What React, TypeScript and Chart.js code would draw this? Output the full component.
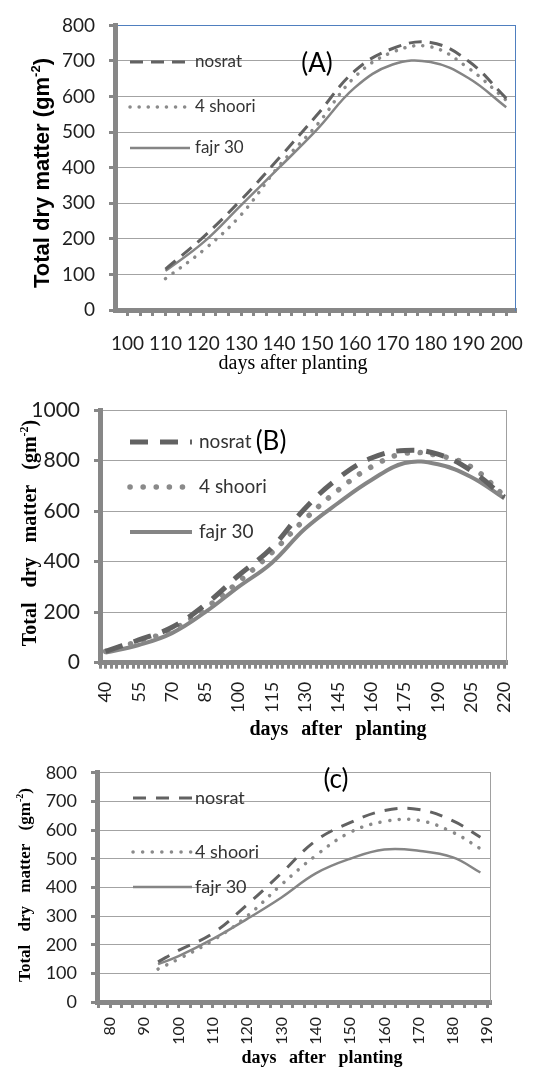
import React, { useEffect, useRef } from 'react';
import { Chart, registerables } from 'chart.js';

Chart.register(...registerables);

// ---------------- data ----------------
const seriesNames = ['nosrat', '4 shoori', 'fajr 30'];

// Panel (A)
const daysA = [110, 120, 130, 140, 150, 160, 170, 180, 190, 200];
const nosratA = [115, 205, 310, 427, 548, 672, 735, 752, 700, 595];
const shooriA = [88, 168, 268, 405, 520, 655, 725, 740, 680, 590];
const fajrA = [110, 190, 295, 400, 507, 625, 690, 697, 652, 570];
const xLabelsA = [100, 110, 120, 130, 140, 150, 160, 170, 180, 190, 200];
const yTicksA = [0, 100, 200, 300, 400, 500, 600, 700, 800];

// Panel (B)
const daysB = [40, 55, 70, 85, 100, 115, 130, 145, 160, 175, 190, 205, 220];
const nosratB = [45, 90, 140, 230, 345, 455, 610, 730, 810, 840, 825, 760, 655];
const shooriB = [45, 85, 130, 215, 320, 435, 568, 683, 775, 828, 820, 775, 660];
const fajrB = [40, 70, 117, 200, 300, 395, 530, 632, 723, 790, 785, 735, 650];
const xLabelsB = [40, 55, 70, 85, 100, 115, 130, 145, 160, 175, 190, 205, 220];
const yTicksB = [0, 200, 400, 600, 800, 1000];

// Panel (c)
const daysC = [94, 100, 110, 120, 130, 140, 150, 160, 170, 180, 188];
const nosratC = [140, 180, 240, 340, 450, 563, 626, 668, 672, 632, 575];
const shooriC = [115, 150, 215, 300, 410, 511, 592, 630, 634, 592, 535];
const fajrC = [132, 160, 220, 290, 365, 449, 500, 532, 528, 505, 452];
const xLabelsC = [80, 90, 100, 110, 120, 130, 140, 150, 160, 170, 180, 190];
const yTicksC = [0, 100, 200, 300, 400, 500, 600, 700, 800];

// ---------------- styles ----------------
const AXIS_GRAY = '#878787';
const GRID_GRAY = '#a3a3a3';
const TEXT = '#1e1e1e';
const DASH_COLOR = '#626262';
const DOT_COLOR = '#8a8a8a';
const SOLID_COLOR = '#858585';

function tickList(labels: number[], sub: number, lo: number, hi: number) {
  const step = (labels[1] - labels[0]) / sub;
  const out: number[] = [];
  const start = labels[0] - Math.floor((labels[0] - lo) / step) * step;
  for (let v = start; v <= hi + 1e-9; v += step) out.push(Math.round(v * 1000) / 1000);
  return out;
}

const decorPlugin = {
  id: 'decor',
  afterDraw(chart: any, _args: any, o: any) {
    const ctx: CanvasRenderingContext2D = chart.ctx;
    ctx.save();
    // legend
    const lg = o.legend;
    chart.data.datasets.forEach((ds: any, i: number) => {
      const y = lg.ys[i];
      ctx.save();
      ctx.strokeStyle = ds.borderColor;
      ctx.lineWidth = ds.borderWidth;
      ctx.setLineDash(ds.borderDash || []);
      ctx.lineCap = ds.borderCapStyle || 'butt';
      ctx.beginPath();
      ctx.moveTo(lg.x1, y);
      ctx.lineTo(lg.x2, y);
      ctx.stroke();
      ctx.restore();
      ctx.fillStyle = lg.color;
      ctx.font = lg.font;
      ctx.textAlign = 'left';
      ctx.textBaseline = 'middle';
      ctx.fillText(ds.label, lg.tx, y);
    });
    // panel label
    const pl = o.panel;
    ctx.fillStyle = '#000';
    ctx.font = pl.font;
    ctx.textAlign = 'center';
    ctx.textBaseline = 'middle';
    ctx.fillText(pl.text, pl.x, pl.y);
    // x title
    const xt = o.xTitle;
    ctx.font = xt.font;
    (ctx as any).wordSpacing = xt.wordSpacing || '0px';
    ctx.fillStyle = '#000';
    ctx.textAlign = 'center';
    ctx.textBaseline = 'middle';
    ctx.fillText(xt.text, xt.x, xt.y);
    (ctx as any).wordSpacing = '0px';
    // y title (rotated, with superscript)
    const yt = o.yTitle;
    ctx.save();
    ctx.translate(yt.x, yt.y);
    ctx.rotate(-Math.PI / 2);
    (ctx as any).wordSpacing = yt.wordSpacing || '0px';
    ctx.font = yt.font;
    const w1 = ctx.measureText(yt.pre).width;
    const w3 = ctx.measureText(yt.post).width;
    ctx.font = yt.supFont;
    const w2 = ctx.measureText(yt.sup).width;
    const total = w1 + w2 + w3;
    let cx = -total / 2;
    ctx.textAlign = 'left';
    ctx.textBaseline = 'alphabetic';
    ctx.fillStyle = '#000';
    ctx.font = yt.font;
    ctx.fillText(yt.pre, cx, yt.base);
    cx += w1;
    ctx.font = yt.supFont;
    ctx.fillText(yt.sup, cx, yt.base - yt.supRise);
    cx += w2;
    ctx.font = yt.font;
    ctx.fillText(yt.post, cx, yt.base);
    (ctx as any).wordSpacing = '0px';
    ctx.restore();
    ctx.restore();
  },
};

function series(days: number[], values: number[]) {
  return days.map((d, i) => ({ x: d, y: values[i] }));
}

function makeConfig(p: any): any {
  const isLabel = (v: number) =>
    Math.abs(v - Math.round(v)) < 1e-6 && p.xLabels.includes(Math.round(v));
  const xTicks = tickList(p.xLabels, p.sub, p.xMin, p.xMax);
  const common = { pointRadius: 0, pointHoverRadius: 0, fill: false, tension: 0.4 };
  return {
    type: 'line',
    data: {
      datasets: [
        {
          label: seriesNames[0],
          data: series(p.days, p.nosrat),
          borderColor: DASH_COLOR,
          borderWidth: p.dashW,
          borderDash: p.dash,
          ...common,
        },
        {
          label: seriesNames[1],
          data: series(p.days, p.shoori),
          borderColor: DOT_COLOR,
          borderWidth: p.dotW,
          borderDash: p.dot,
          borderCapStyle: 'round',
          ...common,
        },
        {
          label: seriesNames[2],
          data: series(p.days, p.fajr),
          borderColor: SOLID_COLOR,
          borderWidth: p.solidW,
          ...common,
        },
      ],
    },
    plugins: [decorPlugin],
    options: {
      responsive: false,
      animation: false,
      events: [],
      layout: { padding: { left: 0, top: p.padTop, right: p.padRight, bottom: 0 } },
      plugins: {
        legend: { display: false },
        tooltip: { enabled: false },
        decor: p.decor,
      },
      scales: {
        x: {
          type: 'linear',
          min: p.xMin,
          max: p.xMax,
          afterBuildTicks: (s: any) => {
            s.ticks = xTicks.map((v) => ({ value: v }));
          },
          afterFit: (s: any) => {
            s.height = p.xAxisHeight;
          },
          grid: {
            drawOnChartArea: false,
            drawTicks: true,
            tickLength: 6,
            tickWidth: 3,
            tickColor: AXIS_GRAY,
            color: AXIS_GRAY,
            lineWidth: 3,
          },
          border: { display: true, color: AXIS_GRAY, width: 5 },
          ticks: {
            autoSkip: false,
            maxRotation: p.rot,
            minRotation: p.rot,
            padding: p.xPad,
            color: TEXT,
            font: { family: 'Lato', size: p.xFont },
            callback: (v: number) => (isLabel(v) ? String(Math.round(v)) : ''),
          },
        },
        y: {
          type: 'linear',
          min: 0,
          max: p.yMax,
          afterBuildTicks: (s: any) => {
            s.ticks = p.yTicks.map((v: number) => ({ value: v }));
          },
          afterFit: (s: any) => {
            s.width = p.yAxisWidth;
          },
          grid: {
            color: (c: any) => (c.tick && c.tick.value === p.yMax ? p.topColor : GRID_GRAY),
            lineWidth: 1,
            drawTicks: true,
            tickLength: 6,
            tickWidth: 3,
            tickColor: AXIS_GRAY,
          },
          border: { display: true, color: AXIS_GRAY, width: 5 },
          ticks: {
            padding: 14,
            color: TEXT,
            font: { family: 'Lato', size: p.yFont },
            callback: (v: number) => String(v),
          },
        },
        y2: {
          type: 'linear',
          position: 'right',
          min: 0,
          max: 1,
          grid: { drawOnChartArea: false, drawTicks: false },
          ticks: { display: false },
          border: { display: true, color: p.rightColor, width: 1 },
          afterFit: (s: any) => {
            s.width = 0;
          },
        },
      },
    },
  };
}

const panelA = {
  top: 0,
  height: 375,
  days: daysA,
  nosrat: nosratA,
  shoori: shooriA,
  fajr: fajrA,
  xLabels: xLabelsA,
  yTicks: yTicksA,
  yMax: 800,
  sub: 3,
  xMin: 96.67,
  xMax: 202.5,
  padTop: 23,
  padRight: 11,
  yAxisWidth: 115,
  xAxisHeight: 65,
  rot: 0,
  xPad: 16,
  xFont: 19,
  yFont: 19,
  topColor: '#4f7fbf',
  rightColor: '#4f7fbf',
  dashW: 3,
  dash: [13, 8],
  dotW: 3.5,
  dot: [0.1, 9],
  solidW: 2.5,
  decor: {
    legend: { x1: 130, x2: 190, tx: 195, ys: [62, 107, 148], font: '17px Lato', color: '#333' },
    panel: { text: '(A)', x: 317, y: 64, font: '26px Lato' },
    xTitle: { text: 'days after planting', x: 293, y: 364, font: '20px "Liberation Serif"' },
    yTitle: {
      x: 41,
      y: 173,
      base: 8,
      pre: 'Total dry matter (gm',
      sup: '-2',
      post: ')',
      font: 'bold 22px "Liberation Sans"',
      supFont: 'bold 13px "Liberation Sans"',
      supRise: 9,
    },
  },
};

const panelB = {
  top: 375,
  height: 373,
  days: daysB,
  nosrat: nosratB,
  shoori: shooriB,
  fajr: fajrB,
  xLabels: xLabelsB,
  yTicks: yTicksB,
  yMax: 1000,
  sub: 6,
  xMin: 37.5,
  xMax: 221,
  padTop: 35,
  padRight: 10,
  yAxisWidth: 100,
  xAxisHeight: 85.3,
  rot: 90,
  xPad: 13,
  xFont: 18,
  yFont: 21,
  topColor: GRID_GRAY,
  rightColor: '#a0a0a0',
  dashW: 5,
  dash: [18, 12],
  dotW: 5.5,
  dot: [0.1, 13],
  solidW: 4,
  decor: {
    legend: { x1: 130, x2: 192, tx: 199, ys: [67, 112, 157], font: '19px Lato', color: '#333' },
    panel: { text: '(B)', x: 271, y: 67, font: '26px Lato' },
    xTitle: {
      text: 'days after planting',
      x: 338,
      y: 355,
      font: 'bold 20px "Liberation Serif"',
      wordSpacing: '8px',
    },
    yTitle: {
      x: 29,
      y: 158,
      base: 7,
      pre: 'Total dry matter (gm',
      sup: '-2',
      post: ')',
      font: 'bold 20px "Liberation Serif"',
      supFont: 'bold 12px "Liberation Serif"',
      supRise: 8,
      wordSpacing: '10px',
    },
  },
};

const panelC = {
  top: 748,
  height: 319,
  days: daysC,
  nosrat: nosratC,
  shoori: shooriC,
  fajr: fajrC,
  xLabels: xLabelsC,
  yTicks: yTicksC,
  yMax: 800,
  sub: 3,
  xMin: 76.2,
  xMax: 190.8,
  padTop: 20,
  padRight: 49,
  yAxisWidth: 97,
  xAxisHeight: 65,
  rot: 90,
  xPad: 9,
  xFont: 16,
  yFont: 18,
  topColor: GRID_GRAY,
  rightColor: '#a0a0a0',
  dashW: 3,
  dash: [13, 10],
  dotW: 3.5,
  dot: [0.1, 9.5],
  solidW: 2.5,
  decor: {
    legend: { x1: 133, x2: 192, tx: 195, ys: [50, 104, 139], font: '18px Lato', color: '#333' },
    panel: { text: '(c)', x: 336, y: 32, font: '26px Lato' },
    xTitle: {
      text: 'days after planting',
      x: 322,
      y: 310,
      font: 'bold 18px "Liberation Serif"',
      wordSpacing: '8px',
    },
    yTitle: {
      x: 23.5,
      y: 137,
      base: 6,
      pre: 'Total dry matter (gm',
      sup: '-2',
      post: ')',
      font: 'bold 17px "Liberation Serif"',
      supFont: 'bold 10px "Liberation Serif"',
      supRise: 7,
      wordSpacing: '9px',
    },
  },
};

function Panel({ spec }: { spec: any }) {
  const ref = useRef<HTMLCanvasElement>(null);
  useEffect(() => {
    const chart = new Chart(ref.current as HTMLCanvasElement, makeConfig(spec));
    return () => chart.destroy();
  }, [spec]);
  return (
    <canvas
      ref={ref}
      width={539}
      height={spec.height}
      style={{ position: 'absolute', left: 0, top: spec.top, width: 539, height: spec.height }}
    />
  );
}

export default function App() {
  return (
    <div
      style={{
        position: 'absolute',
        left: 0,
        top: 0,
        width: 539,
        height: 1067,
        background: '#fff',
        overflow: 'hidden',
      }}
    >
      <Panel spec={panelA} />
      <Panel spec={panelB} />
      <Panel spec={panelC} />
    </div>
  );
}
